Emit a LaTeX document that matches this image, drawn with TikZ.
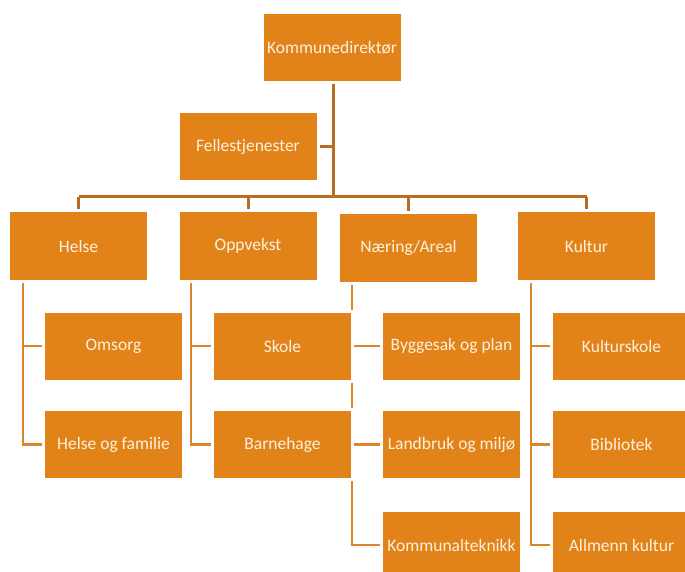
\documentclass[tikz,border=0pt]{standalone}
\usepackage{fontspec}
\setmainfont{Carlito}
\usetikzlibrary{backgrounds,calc}
\definecolor{boxfill}{HTML}{E2831A}
\definecolor{linkcol}{HTML}{BA6C20}
\definecolor{sublinkcol}{HTML}{DC862C}
\definecolor{boxtext}{HTML}{FDF1DE}
\tikzset{
  unit/.style={rectangle, fill=boxfill, draw=white, line width=3pt,
    minimum width=140pt, minimum height=70pt, inner sep=0pt,
    text=boxtext, font=\fontsize{17.5}{20}\selectfont},
  link/.style={draw=linkcol, line width=3pt},
  sublink/.style={draw=sublinkcol, line width=2.6pt}
}
\begin{document}
\begin{tikzpicture}[x=1pt,y=-1pt]
\useasboundingbox (0,0) rectangle (685,572);

% top level
\node[unit] (kd) at (332,47.5) {Kommunedirektør};
\node[unit] (fj) at (248,147) {Fellestjenester};

% sectors
\node[unit] (helse)  at (78.5,246)  {Helse};
\node[unit] (opp)    at (248,246)   {Oppvekst};
\node[unit, minimum height=71pt] (naer) at (408.5,248) {Næring/Areal};
\node[unit] (kultur) at (586.5,246) {Kultur};

% units below each sector
\node[unit] (omsorg) at (113.5,346) {Omsorg};
\node[unit] (hof)    at (113.5,444.5) {Helse og familie};
\node[unit] (skole)  at (282.5,346) {Skole};
\node[unit] (barn)   at (282.5,444.5) {Barnehage};
\node[unit] (bygg)   at (451.5,346) {Byggesak og plan};
\node[unit] (land)   at (451.5,444.5) {Landbruk og miljø};
\node[unit] (komm)   at (451.5,545) {Kommunalteknikk};
\node[unit] (kskole) at (621.5,346) {Kulturskole};
\node[unit] (bib)    at (621.5,444.5) {Bibliotek};
\node[unit] (allm)   at (621.5,545) {Allmenn kultur};

% spine and bar positions
\coordinate (bar)  at (333,197);
\coordinate (sH) at (23,0);
\coordinate (sO) at (191,0);
\coordinate (sN) at (352,0);
\coordinate (sK) at (531,0);

\begin{pgfonlayer}{background}
  \fill[white] (0,0) rectangle (685,572);
  % director trunk and staff unit
  \draw[link] (kd.south -| bar) -- (bar);
  \draw[link] (fj.east) -- (fj.east -| bar);
  % horizontal bar with drops to sectors
  \draw[link] (helse.north |- bar) -- (kultur.north |- bar);
  \foreach \s in {helse,opp,naer,kultur}
    \draw[link] (\s.north |- bar) -- (\s.north);
  % Helse
  \draw[sublink] (helse.south -| sH) -- (sH |- hof.west) -- (hof.west);
  \draw[sublink] (sH |- omsorg.west) -- (omsorg.west);
  % Oppvekst
  \draw[sublink] (opp.south -| sO) -- (sO |- barn.west) -- (barn.west);
  \draw[sublink] (sO |- skole.west) -- (skole.west);
  % Næring/Areal
  \draw[sublink] (naer.south -| sN) -- (sN |- komm.west) -- (komm.west);
  \draw[sublink] (sN |- bygg.west) -- (bygg.west);
  \draw[sublink] (sN |- land.west) -- (land.west);
  % Kultur
  \draw[sublink] (kultur.south -| sK) -- (sK |- allm.west) -- (allm.west);
  \draw[sublink] (sK |- kskole.west) -- (kskole.west);
  \draw[sublink] (sK |- bib.west) -- (bib.west);
\end{pgfonlayer}
\end{tikzpicture}
\end{document}
